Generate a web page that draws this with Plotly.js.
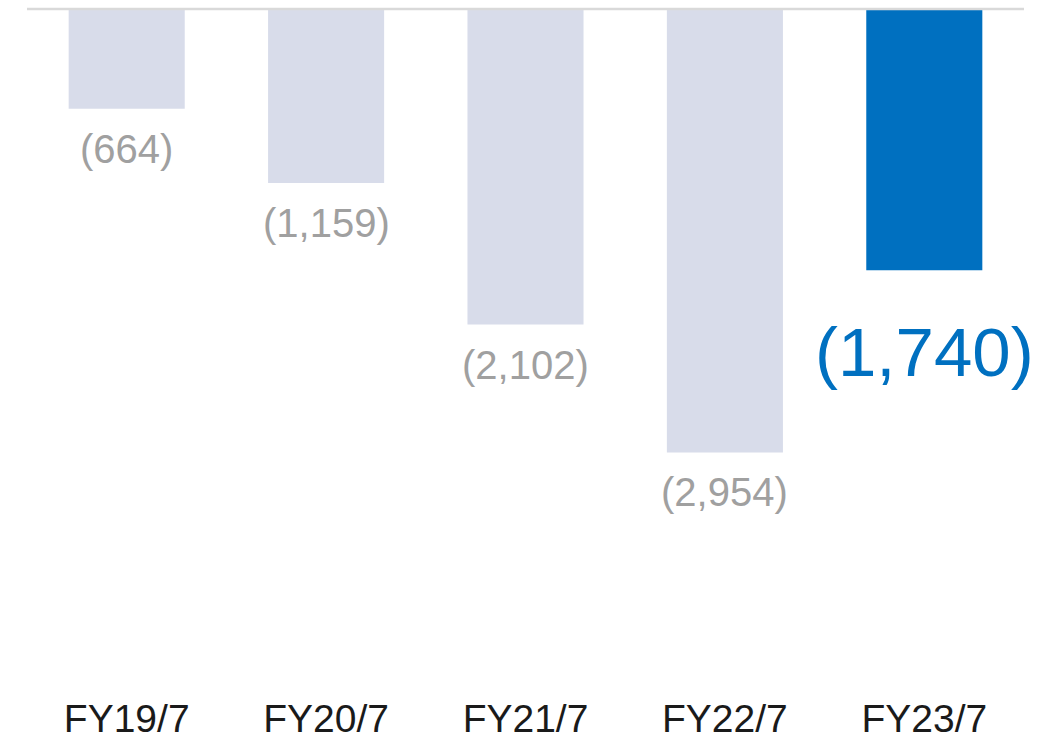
<!DOCTYPE html>
<html>
<head>
<meta charset="utf-8">
<script src="https://cdn.plot.ly/plotly-3.0.1.min.js"></script>
<style>html,body{margin:0;padding:0;background:#fff;}#chart{width:1061px;height:741px;}</style>
</head>
<body>
<div id="chart"></div>
<script>
const categories = ["FY19/7", "FY20/7", "FY21/7", "FY22/7", "FY23/7"];
const values = [-664, -1159, -2102, -2954, -1740];
const valueLabels = ["(664)", "(1,159)", "(2,102)", "(2,954)", "(1,740)"];
const highlightIndex = 4;

const barColors = categories.map((c, i) => i === highlightIndex ? "#0070c0" : "#d8dcea");

const annotations = categories.map((c, i) => ({
  x: c, y: values[i], xref: "x", yref: "y",
  text: valueLabels[i], showarrow: false,
  yanchor: "middle", xanchor: "center",
  yshift: i === highlightIndex ? -82 : -40,
  font: {
    family: "Liberation Sans, Arial, sans-serif",
    size: i === highlightIndex ? 69 : 40,
    color: i === highlightIndex ? "#0070c0" : "#a0a0a0"
  }
}));

Plotly.newPlot("chart", [{
  type: "bar",
  x: categories,
  y: values,
  marker: {color: barColors},
  hoverinfo: "none"
}], {
  width: 1061, height: 741,
  margin: {l: 27, r: 37, t: 9, b: 49, autoexpand: false},
  bargap: 0.418,
  paper_bgcolor: "#ffffff",
  plot_bgcolor: "#ffffff",
  showlegend: false,
  xaxis: {
    range: [-0.5, 4.5], automargin: false,
    showgrid: false, zeroline: false, showline: false, ticks: "",
    tickfont: {family: "Liberation Sans, Arial, sans-serif", size: 39, color: "#1a1a1a"}
  },
  yaxis: {
    range: [-4550, 0], automargin: false, showgrid: false, zeroline: false, showline: false,
    showticklabels: false, ticks: ""
  },
  shapes: [{
    type: "line", xref: "paper", yref: "paper", x0: 0, x1: 1, y0: 1, y1: 1,
    line: {color: "#d9d9d9", width: 2.5}
  }],
  annotations: annotations
}, {staticPlot: true});
</script>
</body>
</html>
